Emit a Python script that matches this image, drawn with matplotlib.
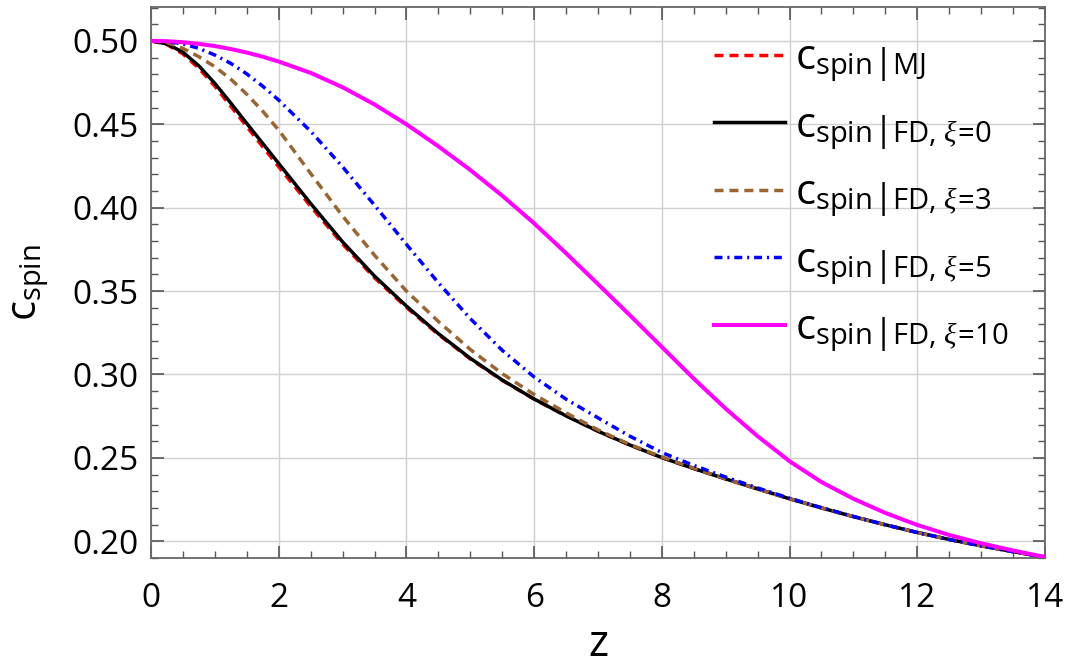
import matplotlib
matplotlib.use("Agg")
import matplotlib.pyplot as plt
from matplotlib.ticker import MultipleLocator, FormatStrFormatter
from matplotlib.mathtext import MathTextParser

plt.rcParams['font.family'] = ['Open Sans', 'DejaVu Sans']
plt.rcParams['mathtext.fontset'] = 'custom'
plt.rcParams['mathtext.rm'] = 'Open Sans'
plt.rcParams['mathtext.it'] = 'Liberation Serif:italic'
plt.rcParams['mathtext.bf'] = 'Open Sans:bold'

z = [0, 0.25, 0.5, 0.75, 1, 1.25, 1.5, 1.75, 2, 2.5, 3, 3.5, 4, 4.5, 5, 5.5,
     6, 6.5, 7, 7.5, 8, 8.5, 9, 9.5, 10, 10.5, 11, 11.5, 12, 12.5, 13, 13.5, 14]

c_mj = [0.5000, 0.4978, 0.4922, 0.4835, 0.4728, 0.4608, 0.4486, 0.4365, 0.4245,
        0.4008, 0.3782, 0.3580, 0.3402, 0.3240, 0.3093, 0.2965, 0.2852,
        0.2752, 0.2660, 0.2577, 0.2502, 0.2436, 0.2374, 0.2314, 0.2255,
        0.2200, 0.2148, 0.2099, 0.2053, 0.2011, 0.1973, 0.1938, 0.1905]

c_fd0 = [0.5000, 0.4982, 0.4932, 0.4850, 0.4745, 0.4627, 0.4505, 0.4385, 0.4265,
         0.4025, 0.3795, 0.3590, 0.3410, 0.3245, 0.3097, 0.2967, 0.2853,
         0.2752, 0.2660, 0.2577, 0.2502, 0.2436, 0.2374, 0.2314, 0.2255,
         0.2200, 0.2148, 0.2099, 0.2053, 0.2011, 0.1973, 0.1938, 0.1905]

c_fd3 = [0.5000, 0.4990, 0.4955, 0.4905, 0.4845, 0.4770, 0.4680, 0.4578, 0.4465,
         0.4205, 0.3950, 0.3715, 0.3500, 0.3318, 0.3150, 0.3005, 0.2880,
         0.2770, 0.2668, 0.2580, 0.2506, 0.2438, 0.2375, 0.2314, 0.2255,
         0.2200, 0.2148, 0.2099, 0.2053, 0.2011, 0.1973, 0.1938, 0.1905]

c_fd5 = [0.5000, 0.4996, 0.4982, 0.4955, 0.4915, 0.4865, 0.4802, 0.4728, 0.4645,
         0.4458, 0.4245, 0.4015, 0.3780, 0.3550, 0.3335, 0.3145, 0.2985,
         0.2852, 0.2740, 0.2630, 0.2532, 0.2455, 0.2385, 0.2320, 0.2258,
         0.2202, 0.2149, 0.2099, 0.2053, 0.2011, 0.1973, 0.1938, 0.1905]

c_fd10 = [0.5000, 0.4998, 0.4992, 0.4982, 0.4969, 0.4951, 0.4930, 0.4905, 0.4876,
          0.4808, 0.4722, 0.4619, 0.4500, 0.4368, 0.4226, 0.4072, 0.3906,
          0.3727, 0.3542, 0.3355, 0.3165, 0.2975, 0.2795, 0.2630, 0.2480,
          0.2355, 0.2255, 0.2170, 0.2098, 0.2038, 0.1988, 0.1945, 0.1906]

subs = [r'\mathrm{MJ}', r'\mathrm{FD},\,\xi\!=\!0', r'\mathrm{FD},\,\xi\!=\!3',
        r'\mathrm{FD},\,\xi\!=\!5', r'\mathrm{FD},\,\xi\!=\!10']


def _parses(s):
    try:
        MathTextParser('path').parse(s, dpi=100)
        return True
    except Exception:
        return False


if _parses(r'$\mathrm{c}_{\mathrm{spin}}\!{\Big|}_{\!\mathrm{MJ}}$'):
    labels = [r'$\mathrm{c}_{\mathrm{spin}}\!{\Big|}_{\!' + s + '}$' for s in subs]
else:
    labels = [r'$\left.\mathrm{c}_{\mathrm{spin}}\right|_{' + s + '}$' for s in subs]

fig = plt.figure(figsize=(10.65, 6.68), dpi=100)
ax = fig.add_axes([0.1418, 0.1647, 0.8394, 0.8248])

ax.plot(z, c_mj, color='#FF0000', lw=2.5, dashes=(2.6, 1.7), label=labels[0], zorder=3)
ax.plot(z, c_fd0, color='black', lw=2.5, label=labels[1], zorder=4)
ax.plot(z, c_fd3, color='#996633', lw=2.5, dashes=(2.6, 1.7), label=labels[2], zorder=5)
ax.plot(z, c_fd5, color='#0000FF', lw=2.5, dashes=(2.3, 1.4, 0.6, 1.4), label=labels[3], zorder=6)
ax.plot(z, c_fd10, color='#FF00FF', lw=2.9, label=labels[4], zorder=7)

ax.set_xlim(0, 14)
ax.set_ylim(0.19, 0.5203)
ax.xaxis.set_major_locator(MultipleLocator(2))
ax.xaxis.set_minor_locator(MultipleLocator(0.5))
ax.yaxis.set_major_locator(MultipleLocator(0.05))
ax.yaxis.set_minor_locator(MultipleLocator(0.01))
ax.yaxis.set_major_formatter(FormatStrFormatter('%.2f'))
ax.grid(True, which='major', color='#d0d0d0', lw=1.0)
ax.tick_params(which='both', direction='in', top=True, right=True, colors='#555555',
               labelcolor='black', labelsize=24)
ax.tick_params(which='major', length=9, width=1.2)
ax.tick_params(which='minor', length=5, width=1.0)
ax.tick_params(axis='x', pad=17)
ax.tick_params(axis='y', pad=9)
for s in ax.spines.values():
    s.set_color('#666666')
    s.set_linewidth(1.3)

ax.set_xlabel('z', fontsize=31, labelpad=6)
ax.set_ylabel(r'$\mathrm{c}_{\mathrm{spin}}$', fontsize=30, labelpad=15)

leg = ax.legend(loc='upper right', frameon=False, fontsize=30, handlelength=1.7,
                labelspacing=0.5, borderaxespad=0.0, handletextpad=0.25,
                bbox_to_anchor=(0.978, 0.975))

fig.savefig('out.png', dpi=100)
